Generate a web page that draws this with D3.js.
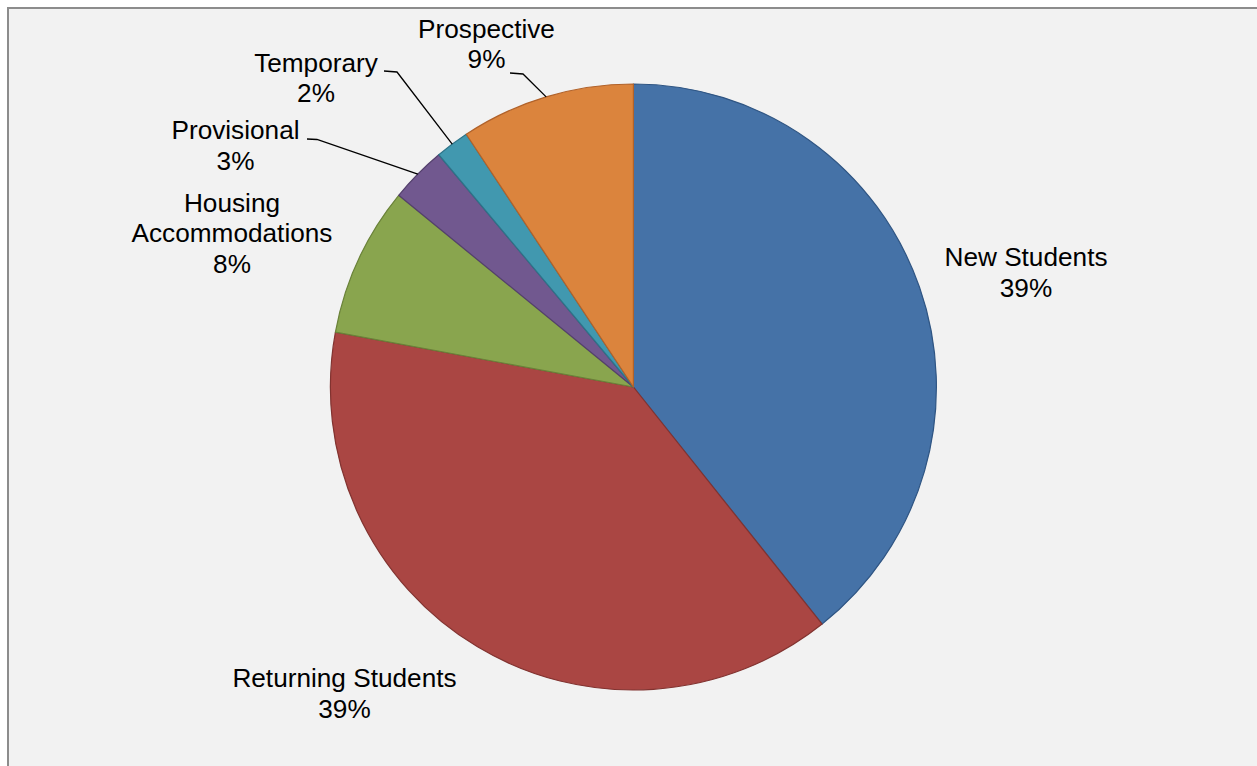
<!DOCTYPE html>
<html>
<head>
<meta charset="utf-8">
<script src="https://cdn.jsdelivr.net/npm/d3@7"></script>
<style>
  html, body { margin: 0; padding: 0; background: #fff; }
  svg text { font-family: "Liberation Sans", Arial, sans-serif; fill: #000; }
</style>
</head>
<body>
<div id="chart"></div>
<script>
// data (share of requests, %)
var categories = ['New Students', 'Returning Students', 'Housing Accommodations', 'Provisional', 'Temporary', 'Prospective'];
var values = [39.3, 38.6, 8.0, 3.0, 1.8, 9.3];
var labelRows = [['New Students'], ['Returning Students'], ['Housing', 'Accommodations'], ['Provisional'], ['Temporary'], ['Prospective']];

var fills = ['#4572a7', '#aa4643', '#89a54e', '#71588f', '#4198af', '#db843d'];
var strokes = ['#2f5583', '#823330', '#6a8239', '#54406d', '#2d7489', '#b1622a'];

// label placement (centre x, first baseline y) and leader start for the small slices
var labelPos = {
  'New Students': [1026, 266],
  'Returning Students': [344.5, 687],
  'Housing Accommodations': [232, 211.5],
  'Provisional': [235.5, 139],
  'Temporary': [316, 71.5],
  'Prospective': [486.5, 37.5]
};
var leaderStart = {
  'Provisional': [[307, 139], [317, 139.5]],
  'Temporary': [[384, 71], [397, 72]],
  'Prospective': [[510, 73], [523, 74]]
};

var width = 1257, height = 766,
    cx = 633.4, cy = 387, radius = 303,
    lineGap = 30.5;

var svg = d3.select('#chart').append('svg')
  .attr('width', width)
  .attr('height', height);

// chart area: border only shows on top and left, runs off the page elsewhere
svg.append('rect')
  .attr('x', 8).attr('y', 8)
  .attr('width', width + 10).attr('height', height + 10)
  .attr('fill', '#f2f2f2')
  .attr('stroke', '#8c8c8c')
  .attr('stroke-width', 2);

var data = categories.map(function(c, i) { return {name: c, value: values[i], rows: labelRows[i], i: i}; });

var pie = d3.pie().sort(null).value(function(d) { return d.value; });
var arc = d3.arc().innerRadius(0).outerRadius(radius);
var arcs = pie(data);

var g = svg.append('g').attr('transform', 'translate(' + cx + ',' + cy + ')');

g.selectAll('path')
  .data(arcs)
  .enter().append('path')
  .attr('d', arc)
  .attr('fill', function(d) { return fills[d.data.i]; })
  .attr('stroke', function(d) { return strokes[d.data.i]; })
  .attr('stroke-width', 1.2)
  .attr('stroke-linejoin', 'round');

// leader lines end on the rim at each slice's mid angle
arcs.forEach(function(d) {
  var s = leaderStart[d.data.name];
  if (!s) return;
  var a = (d.startAngle + d.endAngle) / 2;
  var end = [cx + radius * Math.sin(a), cy - radius * Math.cos(a)];
  svg.append('path')
    .attr('d', d3.line()([s[0], s[1], end]))
    .attr('fill', 'none')
    .attr('stroke', '#000')
    .attr('stroke-width', 1.3);
});

// labels
var fmt = function(v) { return Math.round(v) + '%'; };
arcs.forEach(function(d) {
  var p = labelPos[d.data.name];
  var t = svg.append('text')
    .attr('text-anchor', 'middle')
    .style('font-size', '26.2px');
  d.data.rows.concat([fmt(d.data.value)]).forEach(function(r, k) {
    t.append('tspan')
      .attr('x', p[0])
      .attr('y', p[1] + k * lineGap)
      .text(r);
  });
});
</script>
</body>
</html>
